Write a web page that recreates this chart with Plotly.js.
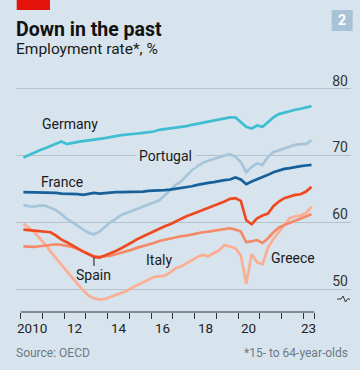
<!DOCTYPE html>
<html>
<head>
<meta charset="utf-8">
<script src="https://cdn.plot.ly/plotly-3.0.1.min.js"></script>
<style>
  html, body { margin: 0; padding: 0; background: #d7e4ed; }
  #chart { width: 360px; height: 370px; }
</style>
</head>
<body>
<div id="chart"></div>
<script>
// ---- Data (employment rate, % of 15- to 64-year-olds, quarterly) ----
const quarters = [
  "2010Q1","2010Q2","2010Q3","2010Q4","2011Q1","2011Q2","2011Q3","2011Q4",
  "2012Q1","2012Q2","2012Q3","2012Q4","2013Q1","2013Q2","2013Q3","2013Q4",
  "2014Q1","2014Q2","2014Q3","2014Q4","2015Q1","2015Q2","2015Q3","2015Q4",
  "2016Q1","2016Q2","2016Q3","2016Q4","2017Q1","2017Q2","2017Q3","2017Q4",
  "2018Q1","2018Q2","2018Q3","2018Q4","2019Q1","2019Q2","2019Q3","2019Q4",
  "2020Q1","2020Q2","2020Q3","2020Q4","2021Q1","2021Q2","2021Q3","2021Q4",
  "2022Q1","2022Q2","2022Q3","2022Q4","2023Q1","2023Q2"
];

const germany = [
  69.7,70.1,70.5,70.8, 71.1,71.4,71.7,72.1, 71.7,71.9,72.05,72.15, 72.3,72.4,72.5,72.6,
  72.7,72.9,73.05,73.1, 73.2,73.3,73.4,73.5, 73.6,73.85,73.95,74.05, 74.15,74.25,74.4,74.6,
  74.75,74.9,75.1,75.3, 75.45,75.6,75.7,75.7, 75.0,74.3,74.05,74.5, 74.3,75.0,75.7,76.2,
  76.45,76.7,76.85,77.0, 77.15,77.4
];
const portugal = [
  62.6,62.4,62.35,62.5, 62.5,62.2,61.8,61.2, 60.5,60.0,59.4,58.9, 58.4,58.2,58.6,59.3,
  60.0,60.5,61.1,61.4, 61.7,62.1,62.4,62.6, 62.9,63.3,64.0,64.8, 65.6,66.1,67.0,67.8,
  68.4,68.9,69.2,69.5, 69.8,70.0,70.2,69.8, 69.0,67.5,68.3,68.8, 68.6,69.8,70.5,70.8,
  71.1,71.3,71.6,71.7, 71.7,72.3
];
const france = [
  64.5,64.5,64.4,64.4, 64.5,64.4,64.4,64.3, 64.3,64.3,64.2,64.1, 64.2,64.4,64.3,64.4,
  64.4,64.5,64.5,64.5, 64.5,64.6,64.6,64.7, 64.7,64.8,64.8,64.9, 65.0,65.1,65.3,65.4,
  65.6,65.8,65.9,66.0, 66.2,66.3,66.4,66.7, 66.4,65.7,66.1,66.4, 66.7,67.1,67.5,67.8,
  68.0,68.1,68.3,68.4, 68.5,68.6
];
const spain = [
  58.9,58.8,58.7,58.6, 58.6,58.5,58.0,57.4, 57.0,56.5,56.1,55.6, 55.2,54.8,54.7,55.0,
  55.3,55.7,56.1,56.5, 57.0,57.5,57.9,58.2, 58.6,59.0,59.4,59.7, 60.1,60.6,60.9,61.2,
  61.5,61.9,62.2,62.4, 62.7,63.1,63.5,63.6, 63.2,60.3,59.7,60.6, 61.0,61.3,62.4,63.1,
  63.6,63.9,64.1,64.2, 64.6,65.3
];
const italy = [
  56.4,56.3,56.3,56.4, 56.5,56.7,56.7,56.6, 56.5,56.3,56.0,55.6, 55.3,54.9,54.8,54.85,
  55.0,55.2,55.4,55.6, 55.9,56.2,56.4,56.7, 56.9,57.2,57.4,57.5, 57.7,57.9,58.0,58.2,
  58.3,58.5,58.6,58.7, 58.9,59.0,59.1,58.9, 58.6,57.0,57.1,57.3, 56.9,57.6,58.5,59.2,
  59.6,59.9,60.2,60.5, 60.8,61.2
];
const greece = [
  59.8,59.2,58.5,57.6, 56.7,55.6,54.6,53.6, 52.6,51.6,50.7,49.8, 49.0,48.6,48.4,48.5,
  48.8,49.0,49.3,49.7, 50.2,50.6,51.0,51.5, 51.8,51.9,52.0,52.5, 53.1,53.4,53.8,54.3,
  54.8,55.1,54.9,55.4, 55.8,56.6,56.3,56.1, 55.0,50.8,55.2,54.0, 53.7,56.2,57.5,58.5,
  59.5,60.6,60.9,61.0, 61.4,62.3
];

const yTicks = [50, 60, 70, 80];
const xTickYears = [2010,2011,2012,2013,2014,2015,2016,2017,2018,2019,2020,2021,2022,2023,2023.5];
const xLabelPos = [2010.5, 2012.5, 2014.5, 2016.5, 2018.5, 2020.5, 2023.25];
const xLabelText = ["2010", "12", "14", "16", "18", "20", "23"];

// quarter label -> mid-quarter time position
const xq = quarters.map(q => +q.slice(0, 4) + (+q.slice(5) - 0.5) / 4);

const BG = "#d7e4ed";
const FONT = "Roboto, 'Open Sans', sans-serif";
const TXT = "#1a1a1a";

// plot-area geometry (pixels) for paper-positioned decorations
const L = 16, R = 351, T = 68, B = 312;
const pxX = p => (p - L) / (R - L);
const pxY = p => (B - p) / (B - T);

const series = [
  { name: "Greece",   y: greece,   color: "#fbae92" },
  { name: "Italy",    y: italy,    color: "#f58a6a" },
  { name: "Spain",    y: spain,    color: "#ee4a22" },
  { name: "Portugal", y: portugal, color: "#a6c4da" },
  { name: "France",   y: france,   color: "#17609a" },
  { name: "Germany",  y: germany,  color: "#3ebdd3" }
];

const traces = series.map(s => ({
  type: "scatter", mode: "lines", x: xq, y: s.y, name: s.name,
  line: { color: s.color, width: 2.7, shape: "linear" },
  hoverinfo: "skip"
}));

const xRange = [2009.784, 2025.193];
const yRange = [46.554, 83.11];

const xLabelAnnotations = xLabelPos.map((p, i) => ({
  text: xLabelText[i], xref: "x", yref: "paper", x: p, y: pxY(328.3),
  xanchor: "center", yanchor: "middle", showarrow: false,
  font: { family: FONT, size: 13.5, color: "#222" }
}));

const breakPath = "M" + pxX(337) + "," + pxY(299) +
  " L" + pxX(341) + "," + pxY(299) +
  " L" + pxX(343) + "," + pxY(296) +
  " L" + pxX(345.5) + "," + pxY(302) +
  " L" + pxX(347.5) + "," + pxY(299) +
  " L" + pxX(350) + "," + pxY(299);

const layout = {
  width: 360, height: 370,
  paper_bgcolor: BG, plot_bgcolor: BG,
  margin: { l: L, r: 360 - R, t: T, b: 370 - B, pad: 0 },
  showlegend: false,
  font: { family: FONT, color: TXT },
  title: {
    text: "<b>Down in the past</b>",
    font: { family: FONT, size: 19.5, color: "#111" },
    x: 16 / 360, xanchor: "left", xref: "container",
    y: 1 - 29 / 370, yanchor: "middle", yref: "container"
  },
  xaxis: {
    range: xRange, showgrid: false, zeroline: false, showline: false,
    tickmode: "array", tickvals: xTickYears, ticktext: xTickYears.map(() => ""),
    ticks: "outside", ticklen: 6, tickwidth: 1, tickcolor: "#333",
    showticklabels: false, fixedrange: true
  },
  yaxis: {
    range: yRange, side: "right", ticklabelposition: "inside",
    tickmode: "array", tickvals: yTicks, ticktext: yTicks.map(String),
    showgrid: true, gridcolor: "#b3c2cc", gridwidth: 1,
    zeroline: false, showline: false, ticks: "",
    ticklabelshift: -8, ticklabelstandoff: 0,
    tickfont: { family: FONT, size: 14, color: "#333" }, fixedrange: true
  },
  shapes: [
    // x axis baseline (only over the data period)
    { type: "line", xref: "x", yref: "paper", x0: 2010, x1: 2023.5, y0: 0, y1: 0,
      line: { color: "#333", width: 1 } },
    // axis break symbol
    { type: "path", xref: "paper", yref: "paper", path: breakPath,
      line: { color: "#333", width: 1 } },
    // red tag
    { type: "rect", xref: "paper", yref: "paper", x0: pxX(16.7), x1: pxX(50), y0: pxY(10), y1: pxY(0),
      fillcolor: "#e3120b", line: { width: 0 } },
    // chart number badge
    { type: "rect", xref: "paper", yref: "paper", x0: pxX(331.7), x1: pxX(352.7), y0: pxY(31), y1: pxY(10),
      fillcolor: "#a9c3d6", line: { width: 0 } }
  ],
  annotations: [
    { text: "Employment rate*, %", xref: "paper", yref: "paper", x: pxX(13.5), y: pxY(48.5),
      xanchor: "left", yanchor: "middle", showarrow: false,
      font: { family: FONT, size: 15.5, color: "#1a1a1a" } },
    { text: "<b>2</b>", xref: "paper", yref: "paper", x: pxX(342.2), y: pxY(20.5),
      xanchor: "center", yanchor: "middle", showarrow: false,
      font: { family: FONT, size: 14, color: "#ffffff" } },
    { text: "Source: OECD", xref: "paper", yref: "paper", x: pxX(14), y: pxY(352.7),
      xanchor: "left", yanchor: "middle", showarrow: false,
      font: { family: FONT, size: 12, color: "#6d7a83" } },
    { text: "*15- to 64-year-olds", xref: "paper", yref: "paper", x: pxX(350), y: pxY(352.7),
      xanchor: "right", yanchor: "middle", showarrow: false,
      font: { family: FONT, size: 12, color: "#6d7a83" } },
    // series labels
    { text: "Germany", x: 2012.27, y: 74.67, showarrow: false,
      font: { family: FONT, size: 14, color: TXT } },
    { text: "Portugal", x: 2016.68, y: 69.93, showarrow: false, bgcolor: BG, borderpad: 3,
      font: { family: FONT, size: 14, color: TXT } },
    { text: "France", x: 2011.89, y: 66.07, showarrow: false,
      font: { family: FONT, size: 14, color: TXT } },
    { text: "Italy", x: 2016.36, y: 54.34, showarrow: false,
      font: { family: FONT, size: 14, color: TXT } },
    { text: "Greece", x: 2022.53, y: 54.6, showarrow: false,
      font: { family: FONT, size: 14, color: TXT } },
    { text: "Spain", x: 2013.37, y: 54.72, showarrow: true, arrowhead: 0, arrowwidth: 1,
      arrowcolor: "#111", ax: 0, ay: 18, standoff: 0,
      font: { family: FONT, size: 14, color: TXT } }
  ].concat(xLabelAnnotations)
};

Plotly.newPlot("chart", traces, layout, { staticPlot: true, displayModeBar: false });
</script>
</body>
</html>
